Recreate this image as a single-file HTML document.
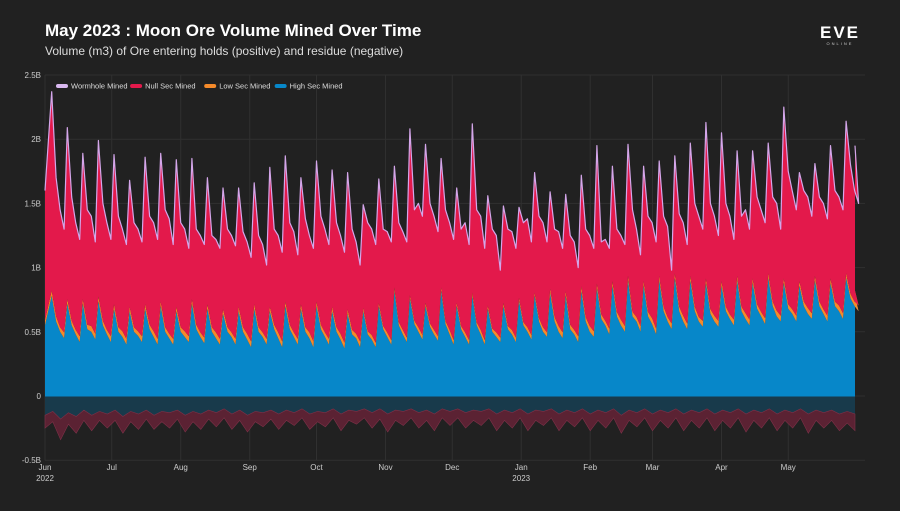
<!DOCTYPE html>
<html><head><meta charset="utf-8">
<style>
body{margin:0;background:#212121;width:900px;height:506px;overflow:hidden;font-family:"Liberation Sans",sans-serif}
svg text{font-family:"Liberation Sans",sans-serif}
</style></head>
<body>
<svg id="chart" width="900" height="506" viewBox="0 0 900 506" xmlns="http://www.w3.org/2000/svg">
<rect width="900" height="506" fill="#212121"/>
<text x="45" y="36" fill="#fff" font-size="17" font-weight="bold">May 2023 : Moon Ore Volume Mined Over Time</text>
<text x="45" y="55" fill="#ddd" font-size="12">Volume (m3) of Ore entering holds (positive) and residue (negative)</text>
<g>
<text x="840" y="38" fill="#fff" font-size="17" font-weight="bold" text-anchor="middle" letter-spacing="2">EVE</text>
<text x="840" y="45" fill="#ccc" font-size="4" text-anchor="middle" letter-spacing="2">ONLINE</text>
</g>
<g id="grid"></g>
<g id="marks"></g>
<g id="axes"></g>
<g id="legend"></g>
</svg>
<script>
const monthLabels=["Jun","Jul","Aug","Sep","Oct","Nov","Dec","Jan","Feb","Mar","Apr","May"];
const monthDays=[0,30,61,92,122,153,183,214,245,273,304,334];
const yTicks=[2.5,2,1.5,1,0.5,0,-0.5];
const yTickLabels=["2.5B","2B","1.5B","1B","0.5B","0","-0.5B"];
const totalVals=[1.60,
2.37,1.70,1.45,1.30, 2.09,1.55,1.35,1.22, 1.89,1.45,1.40,1.20, 1.99,1.50,1.35,1.22,
1.88,1.40,1.30,1.18, 1.68,1.35,1.30,1.20, 1.86,1.40,1.35,1.22, 1.89,1.45,1.38,1.18,
1.84,1.35,1.30,1.15, 1.85,1.30,1.25,1.18, 1.70,1.25,1.22,1.15, 1.62,1.30,1.25,1.17,
1.62,1.28,1.20,1.08, 1.66,1.25,1.18,1.02, 1.78,1.30,1.25,1.12, 1.87,1.35,1.28,1.10,
1.70,1.38,1.25,1.15, 1.83,1.40,1.30,1.18, 1.76,1.35,1.25,1.12, 1.74,1.30,1.20,1.02,
1.49,1.35,1.30,1.18, 1.69,1.30,1.28,1.20, 1.79,1.35,1.28,1.20, 2.08,1.45,1.50,1.40,
1.96,1.50,1.40,1.28, 1.85,1.45,1.35,1.22, 1.62,1.30,1.35,1.18, 2.12,1.45,1.40,1.15,
1.56,1.30,1.25,0.98, 1.48,1.30,1.28,1.15, 1.47,1.35,1.38,1.20, 1.74,1.40,1.35,1.20,
1.59,1.30,1.28,1.15, 1.57,1.25,1.20,1.00, 1.72,1.30,1.25,1.15, 1.95,1.20,1.22,1.15,
1.79,1.30,1.25,1.18, 1.96,1.45,1.30,1.10, 1.79,1.40,1.35,1.20, 1.83,1.40,1.32,0.98,
1.87,1.42,1.35,1.18, 1.97,1.50,1.40,1.30, 2.13,1.50,1.40,1.25, 2.05,1.50,1.40,1.22,
1.91,1.40,1.45,1.30, 1.91,1.55,1.45,1.35, 1.97,1.55,1.50,1.30, 2.25,1.75,1.60,1.45,
1.74,1.60,1.55,1.40, 1.81,1.55,1.50,1.38, 1.95,1.60,1.55,1.45, 2.14,1.80,1.60,1.50,
1.95];
const highVals=[0.55,
0.78,0.58,0.50,0.45, 0.72,0.55,0.48,0.42, 0.72,0.52,0.50,0.44, 0.74,0.55,0.48,0.42,
0.68,0.50,0.46,0.40, 0.66,0.50,0.47,0.42, 0.68,0.52,0.46,0.40, 0.70,0.50,0.45,0.40,
0.66,0.50,0.46,0.42, 0.72,0.52,0.46,0.41, 0.68,0.50,0.45,0.40, 0.64,0.50,0.46,0.40,
0.66,0.50,0.44,0.38, 0.68,0.50,0.46,0.40, 0.66,0.52,0.45,0.38, 0.70,0.52,0.46,0.40,
0.68,0.50,0.45,0.38, 0.70,0.52,0.46,0.40, 0.66,0.50,0.44,0.37, 0.64,0.48,0.45,0.38,
0.66,0.48,0.44,0.38, 0.70,0.52,0.46,0.40, 0.82,0.55,0.48,0.42, 0.76,0.56,0.50,0.44,
0.70,0.54,0.48,0.43, 0.82,0.56,0.48,0.40, 0.70,0.52,0.46,0.40, 0.78,0.55,0.48,0.40,
0.68,0.50,0.46,0.42, 0.70,0.52,0.48,0.42, 0.74,0.55,0.50,0.44, 0.78,0.58,0.50,0.46,
0.80,0.58,0.50,0.45, 0.78,0.52,0.48,0.42, 0.82,0.58,0.50,0.46, 0.84,0.60,0.55,0.48,
0.86,0.62,0.55,0.50, 0.90,0.62,0.58,0.50, 0.86,0.62,0.56,0.48, 0.90,0.66,0.58,0.52,
0.92,0.66,0.58,0.52, 0.90,0.66,0.58,0.54, 0.88,0.64,0.58,0.54, 0.86,0.66,0.60,0.55,
0.90,0.66,0.60,0.55, 0.88,0.68,0.62,0.56, 0.92,0.70,0.62,0.58, 0.88,0.68,0.64,0.58,
0.86,0.70,0.64,0.60, 0.90,0.70,0.64,0.58, 0.88,0.70,0.66,0.60, 0.92,0.76,0.70,0.66,
0.78];
const lowVals=[0.04,
0.04,0.04,0.035,0.045, 0.035,0.035,0.035,0.045, 0.035,0.035,0.045,0.045, 0.035,0.035,0.035,0.045,
0.035,0.035,0.045,0.045, 0.035,0.035,0.035,0.045, 0.035,0.035,0.045,0.045, 0.035,0.035,0.035,0.045,
0.035,0.035,0.045,0.045, 0.035,0.035,0.035,0.045, 0.035,0.035,0.045,0.045, 0.035,0.035,0.035,0.045,
0.035,0.035,0.045,0.045, 0.035,0.035,0.035,0.045, 0.035,0.035,0.045,0.045, 0.035,0.035,0.035,0.045,
0.035,0.035,0.045,0.045, 0.035,0.035,0.035,0.045, 0.035,0.035,0.045,0.045, 0.035,0.035,0.035,0.045,
0.025,0.025,0.035,0.035, 0.025,0.025,0.035,0.035, 0.025,0.025,0.035,0.035, 0.025,0.025,0.035,0.035,
0.025,0.025,0.035,0.035, 0.025,0.025,0.035,0.035, 0.025,0.025,0.035,0.035, 0.025,0.025,0.035,0.035,
0.025,0.025,0.035,0.035, 0.025,0.025,0.035,0.035, 0.025,0.025,0.035,0.035, 0.025,0.025,0.035,0.035,
0.035,0.035,0.045,0.045, 0.035,0.035,0.035,0.045, 0.035,0.035,0.045,0.045, 0.035,0.035,0.035,0.045,
0.035,0.035,0.045,0.045, 0.035,0.035,0.035,0.045, 0.035,0.035,0.045,0.045, 0.035,0.035,0.035,0.045,
0.035,0.035,0.045,0.045, 0.035,0.035,0.035,0.045, 0.035,0.035,0.045,0.045, 0.035,0.035,0.035,0.045,
0.035,0.035,0.045,0.045, 0.035,0.035,0.035,0.045, 0.035,0.035,0.045,0.045, 0.035,0.035,0.035,0.045,
0.035,0.035,0.045,0.045, 0.035,0.035,0.035,0.045, 0.035,0.035,0.045,0.045, 0.035,0.035,0.035,0.045,
0.04];
const negHighVals=[0.15,0.12,0.18,0.13,0.16,0.11,0.15,0.12,0.14,0.11,0.16,0.12,0.14,0.11,0.15,0.12,0.13,0.11,0.15,0.12,
0.14,0.11,0.13,0.10,0.14,0.11,0.15,0.12,0.13,0.11,0.14,0.11,0.13,0.10,0.14,0.12,0.13,0.10,0.14,0.11,
0.12,0.10,0.13,0.10,0.14,0.11,0.12,0.10,0.13,0.11,0.14,0.10,0.12,0.10,0.13,0.11,0.12,0.10,0.14,0.11,
0.13,0.10,0.14,0.11,0.12,0.10,0.14,0.11,0.13,0.10,0.14,0.11,0.13,0.10,0.15,0.11,0.13,0.10,0.14,0.11,
0.13,0.10,0.14,0.11,0.13,0.10,0.14,0.11,0.13,0.10,0.14,0.11,0.13,0.10,0.14,0.11,0.13,0.10,0.14,0.11,
0.13,0.11,0.14,0.12,0.14];
const negNullVals=[0.10,0.08,0.16,0.09,0.13,0.08,0.12,0.07,0.11,0.08,0.13,0.08,0.12,0.07,0.11,0.08,0.12,0.07,0.13,0.08,
0.12,0.07,0.11,0.07,0.12,0.08,0.13,0.08,0.11,0.07,0.12,0.08,0.10,0.07,0.12,0.08,0.11,0.07,0.13,0.08,
0.10,0.07,0.12,0.08,0.14,0.08,0.11,0.07,0.12,0.08,0.13,0.07,0.11,0.07,0.12,0.08,0.11,0.07,0.13,0.08,
0.12,0.07,0.13,0.08,0.11,0.07,0.13,0.08,0.11,0.07,0.13,0.08,0.12,0.07,0.14,0.08,0.11,0.07,0.13,0.08,
0.12,0.07,0.13,0.08,0.12,0.07,0.13,0.08,0.12,0.07,0.14,0.08,0.12,0.07,0.13,0.08,0.12,0.07,0.15,0.08,
0.12,0.08,0.13,0.09,0.13];

const NS="http://www.w3.org/2000/svg";
const X0=45,X1=855,DAYS=364;
function xs(d){return X0+d*(X1-X0)/DAYS;}
function ys(v){return 396-v*128.4;}
function mk(tag,attrs,parent){const e=document.createElementNS(NS,tag);for(const k in attrs)e.setAttribute(k,attrs[k]);parent.appendChild(e);return e;}
const gridG=document.getElementById('grid'),marksG=document.getElementById('marks'),axesG=document.getElementById('axes'),legendG=document.getElementById('legend');

const sampleDays=[0];
for(let w=0;w<52;w++){const b=3+7*w;sampleDays.push(b,b+2,b+3.8,b+5.6);}
sampleDays.push(DAYS);
const negDays=negHighVals.map((_,i)=>i*DAYS/(negHighVals.length-1));

yTicks.forEach((t,i)=>{
  const l=mk('line',{x1:X0,x2:X1+10,y1:ys(t),y2:ys(t),stroke:'#303030','stroke-width':1},gridG);
  
  
  const tx=mk('text',{x:41,y:ys(t)+3,fill:'#ccc','font-size':8,'text-anchor':'end'},axesG);
  tx.textContent=yTickLabels[i];
  
  
});
monthDays.forEach((d,i)=>{
  const l=mk('line',{x1:xs(d),x2:xs(d),y1:ys(2.5),y2:ys(-0.5),stroke:'#303030','stroke-width':1},gridG);
  
  
  const tx=mk('text',{x:xs(d),y:470,fill:'#ccc','font-size':8,'text-anchor':'middle'},axesG);
  tx.textContent=monthLabels[i];
  
  
});
[[0,"2022"],[214,"2023"]].forEach(p=>{
  const tx=mk('text',{x:xs(p[0]),y:481,fill:'#ccc','font-size':8,'text-anchor':'middle'},axesG);
  tx.textContent=p[1];
  
  
});

function band(days,lo,hi,fill,name,stroke){
  let d='M'+xs(days[0]).toFixed(1)+','+ys(hi[0]).toFixed(1);
  for(let i=1;i<days.length;i++)d+='L'+xs(days[i]).toFixed(1)+','+ys(hi[i]).toFixed(1);
  for(let i=days.length-1;i>=0;i--)d+='L'+xs(days[i]).toFixed(1)+','+ys(lo[i]).toFixed(1);
  const p=mk('path',{d:d+'Z',fill:fill,stroke:stroke||'none','stroke-width':stroke?0.6:0},marksG);
  
  
}
const zeroVals=sampleDays.map(()=>0);
const hiTop=highVals.slice();
const lowTop=highVals.map((h,i)=>h+lowVals[i]);
const topVals=totalVals.slice();
band(sampleDays,zeroVals,hiTop,'#0787c9','high-sec-area');
band(sampleDays,hiTop,lowTop,'#f58a2a','low-sec-area');
band(sampleDays,lowTop,topVals,'#e3194b','null-sec-area');
let wd='M'+xs(sampleDays[0]).toFixed(1)+','+ys(topVals[0]).toFixed(1);
for(let i=1;i<sampleDays.length;i++)wd+='L'+xs(sampleDays[i]).toFixed(1)+','+ys(topVals[i]).toFixed(1);
const wl=mk('path',{d:wd,fill:'none',stroke:'#d4a6ea','stroke-width':1.2,'stroke-linejoin':'round'},marksG);



const nz=negDays.map(()=>0);
const nh=negHighVals.map(v=>-v);
const nn=negHighVals.map((v,i)=>-(v+negNullVals[i]));
band(negDays,nh,nz,'#183a4b','high-sec-residue-area');
band(negDays,nn,nh,'#5b2233','null-sec-residue-area','#7e3148');
const zl=mk('line',{x1:X0,x2:X1,y1:396,y2:396,stroke:'#0787c9','stroke-width':1},marksG);



const legendItems=[["Wormhole Mined","#d9b8f0"],["Null Sec Mined","#e3194b"],["Low Sec Mined","#f58a2a"],["High Sec Mined","#0787c9"]];
let lx=56;
legendItems.forEach(it=>{
  const g=mk('g',{},legendG);
  
  
  mk('rect',{x:lx,y:84,width:12,height:4,rx:2,fill:it[1]},g);
  const t=mk('text',{x:lx+15,y:88.5,fill:'#ddd','font-size':7.5},g);
  t.textContent=it[0];
  lx+=15+it[0].length*3.65+8;
});
</script>
</body></html>
